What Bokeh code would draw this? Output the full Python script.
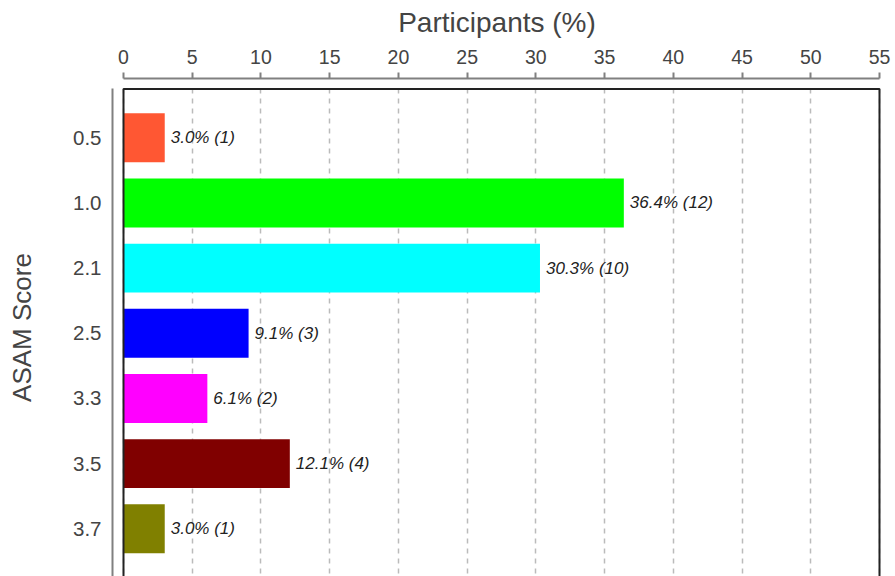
from bokeh.plotting import figure
from bokeh.models import Range1d, FixedTicker, ColumnDataSource
from bokeh.core.properties import value
from bokeh.embed import file_html
from bokeh.resources import INLINE

# ---- data ----
categories = ["0.5", "1.0", "2.1", "2.5", "3.3", "3.5", "3.7"]
percents = [3.0, 36.4, 30.3, 9.1, 6.1, 12.1, 3.0]
counts = [1, 12, 10, 3, 2, 4, 1]
colors = ["#FF5733", "#00FF00", "#00FFFF", "#0000FF", "#FF00FF", "#800000", "#808000"]
x_ticks = [0, 5, 10, 15, 20, 25, 30, 35, 40, 45, 50, 55]

positions = list(range(1, len(categories) + 1))
labels = [f"{v:.1f}% ({c})" for v, c in zip(percents, counts)]

src = ColumnDataSource(dict(y=positions, right=percents, color=colors, label=labels))

FONT = "Liberation Sans"

p = figure(
    width=895, height=576,
    x_range=Range1d(-0.8003, 55.1455),
    y_range=Range1d(7.732, 0.090),
    x_axis_location="above",
    output_backend="svg", toolbar_location=None,
    min_border_left=112, min_border_top=78, min_border_bottom=0, min_border_right=14,
)
p.outline_line_color = None
p.background_fill_color = "white"
p.border_fill_color = "white"

# bars
p.hbar(y="y", left=0, right="right", height=0.75, fill_color="color",
       line_color=None, source=src)

# value labels
p.text(x="right", y="y", text="label", source=src, x_offset=6,
       text_baseline="middle", text_align="left",
       text_font=value(FONT), text_font_style="italic",
       text_font_size="17px", text_color="#222222")

# plot box
p.quad(left=[0], right=[55], top=[0.25], bottom=[7.75], fill_color=None,
       line_color="#222222", line_width=2)

# x axis (top)
xa = p.xaxis[0]
xa.ticker = FixedTicker(ticks=x_ticks)
xa.bounds = (0, 55)
xa.axis_label = "Participants (%)"
xa.axis_label_text_font = FONT
xa.axis_label_text_font_size = "28px"
xa.axis_label_text_font_style = "normal"
xa.axis_label_text_color = "#444444"
xa.axis_label_standoff = 9
xa.major_label_text_font = FONT
xa.major_label_text_font_size = "19.5px"
xa.major_label_text_color = "#444444"
xa.major_label_standoff = 9
xa.axis_line_color = "#808080"
xa.axis_line_width = 2
xa.major_tick_line_color = "#808080"
xa.major_tick_line_width = 2
xa.major_tick_out = 6
xa.major_tick_in = 0
xa.minor_tick_line_color = None

# y axis (left)
ya = p.yaxis[0]
ya.ticker = FixedTicker(ticks=positions)
ya.major_label_overrides = {pos: cat for pos, cat in zip(positions, categories)}
ya.bounds = (0.25, 7.75)
ya.axis_label = "ASAM Score"
ya.axis_label_text_font = FONT
ya.axis_label_text_font_size = "26px"
ya.axis_label_text_font_style = "normal"
ya.axis_label_text_color = "#444444"
ya.axis_label_standoff = 33
ya.major_label_text_font = FONT
ya.major_label_text_font_size = "20.5px"
ya.major_label_text_color = "#444444"
ya.major_label_standoff = 11
ya.axis_line_color = "#808080"
ya.axis_line_width = 2
ya.major_tick_line_color = None
ya.major_tick_out = 0
ya.major_tick_in = 0
ya.minor_tick_line_color = None

# grid
p.ygrid.grid_line_color = None
p.xgrid.ticker = FixedTicker(ticks=x_ticks)
p.xgrid.grid_line_color = "#bbbbbb"
p.xgrid.grid_line_width = 1.5
p.xgrid.grid_line_dash = "5 5"
p.xgrid.cross_bounds = (0.25, 7.75)

open("out.html", "w").write(file_html(p, INLINE))
